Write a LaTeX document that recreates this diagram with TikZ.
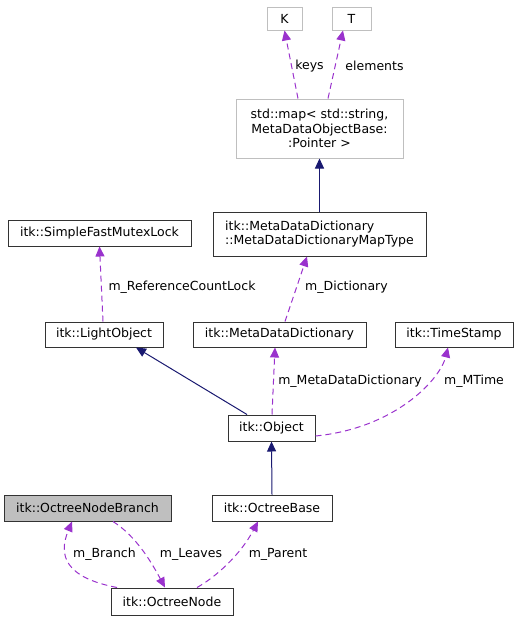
\documentclass[tikz,border=0pt]{standalone}
\usepackage{fontspec}
\setmainfont{DejaVu Sans}
\usetikzlibrary{arrows.meta}
\definecolor{navy}{HTML}{191970}
\definecolor{orch}{HTML}{9A32CD}
\definecolor{lgray}{HTML}{BFBFBF}
\begin{document}
\begin{tikzpicture}[x=1pt,y=-1pt,
  every node/.style={font=\fontsize{12.5}{14.5}\selectfont},
  cls/.style={draw=black!80, line width=1pt, inner sep=0pt, minimum height=26pt},
  ext/.style={draw=lgray, line width=1pt, inner sep=0pt, minimum height=23pt},
  inh/.style={draw=navy, line width=1pt, -{Triangle[length=10pt,width=9pt]}},
  usr/.style={draw=orch, line width=1pt, dash pattern=on 6pt off 4pt, -{Triangle[length=10pt,width=9pt]}},
  lab/.style={inner sep=0pt, text=black}]
\useasboundingbox (0,0) rectangle (519,621);

\node[ext, minimum width=35pt] (K) at (284.5,18.5) {K};
\node[ext, minimum width=39pt] (T) at (351.5,18.5) {T};
\node[ext, minimum width=167pt, minimum height=59pt, align=center] (map) at (319.5,128.5)
  {std::map< std::string,\\ MetaDataObjectBase:\\ :Pointer >};
\node[cls, minimum width=183pt] (mutex) at (99.5,233) {itk::SimpleFastMutexLock};
\node[cls, minimum width=213pt, minimum height=44pt, align=left] (maptype) at (319.5,234)
  {itk::MetaDataDictionary\\::MetaDataDictionaryMapType};
\node[cls, minimum width=118pt, minimum height=25pt] (light) at (104,334.5) {itk::LightObject};
\node[cls, minimum width=173pt, minimum height=25pt] (mdd) at (279.5,334.5) {itk::MetaDataDictionary};
\node[cls, minimum width=118pt, minimum height=25pt] (ts) at (454,334.5) {itk::TimeStamp};
\node[cls, minimum width=87pt] (obj) at (271.5,428) {itk::Object};
\node[cls, minimum width=167pt, fill=lgray] (branch) at (87.5,508) {itk::OctreeNodeBranch};
\node[cls, minimum width=120pt] (base) at (272,508) {itk::OctreeBase};
\node[cls, minimum width=122pt, minimum height=27pt] (onode) at (172,601.5) {itk::OctreeNode};

% keys / elements
\draw[usr] ([xshift=-21.5pt]map.north) -- (K.south);
\node[lab] (lkeys) at (309.5,66) {keys};
\draw[usr] ([xshift=8.5pt]map.north) -- ([xshift=-8.5pt]T.south);
\node[lab] (lelem) at (374.5,66) {elements};

% inheritance
\draw[inh] (maptype.north) -- (map.south);
\draw[inh] ([xshift=-24.5pt]obj.north) -- ([xshift=32pt]light.south);
\draw[inh] (base.north) -- (obj.south);

% members
\draw[usr] ([xshift=-1pt]light.north) -- (mutex.south);
\node[lab] (lref) at (182,287) {m\_ReferenceCountLock};
\draw[usr] ([xshift=5.5pt]mdd.north) -- ([xshift=-12.5pt]maptype.south);
\node[lab] (ldict) at (346.5,287) {m\_Dictionary};
\draw[usr] ([xshift=0.5pt]obj.north) -- ([xshift=-4.5pt]mdd.south);
\node[lab] (lmdd) at (350,381) {m\_MetaDataDictionary};
\draw[usr] ([yshift=-8pt]obj.east) .. controls +(80,-8) and +(-8,32) .. ([xshift=-6pt]ts.south);
\node[lab] (lmt) at (474,381) {m\_MTime};

\draw[usr] ([xshift=-55pt]onode.north) .. controls +(-52,-10) and +(-14,34) .. ([xshift=-15.5pt]branch.south);
\node[lab] (lbr) at (104.5,554) {m\_Branch};
\draw[usr] ([xshift=25.5pt]branch.south) .. controls +(22,14) and +(-15,-28) .. ([xshift=-7pt]onode.north);
\node[lab] (lle) at (191,554) {m\_Leaves};
\draw[usr] ([xshift=25pt]onode.north) .. controls +(18,-10) and +(-18,34) .. ([xshift=-14pt]base.south);
\node[lab] (lpa) at (278,554) {m\_Parent};
\end{tikzpicture}
\end{document}
